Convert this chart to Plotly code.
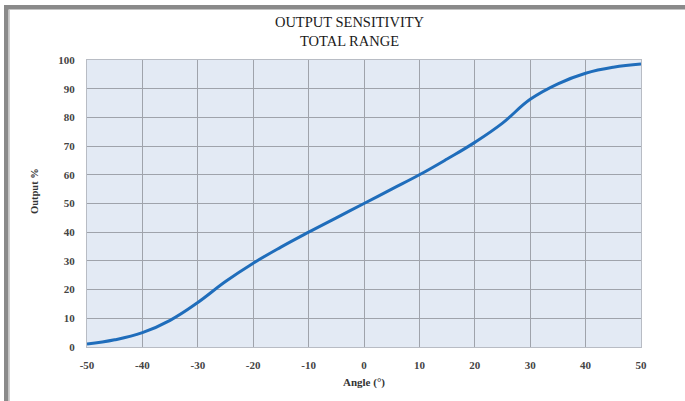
import plotly.graph_objects as go

angles = [-50, -45, -40, -35, -30, -25, -20, -15, -10, -5, 0, 5, 10, 15, 20, 25, 30, 35, 40, 45, 50]
output_pct = [1, 2.5, 5, 9.3, 15.5, 22.8, 29.2, 34.8, 40, 45, 50, 55, 60, 65.5, 71.3, 78.0, 86.3, 91.7, 95.4, 97.5, 98.6]

x_ticks = [-50, -40, -30, -20, -10, 0, 10, 20, 30, 40, 50]
y_ticks = [0, 10, 20, 30, 40, 50, 60, 70, 80, 90, 100]

serif = "Liberation Serif, Times New Roman, serif"

fig = go.Figure()
fig.add_trace(go.Scatter(
    x=angles, y=output_pct, mode="lines",
    line=dict(color="#1f6dbb", width=3, shape="spline", smoothing=1.2),
    showlegend=False, hoverinfo="skip",
))

W = 641 - 87
H = 347 - 60
def px_x(p):
    return (p - 87) / W
def px_y(p):
    return (347 - p) / H

fig.update_layout(
    width=685, height=401,
    margin=dict(l=87, r=44, t=60, b=54),
    paper_bgcolor="white",
    plot_bgcolor="#e3eaf4",
    title=dict(
        text="OUTPUT SENSITIVITY<br>TOTAL RANGE",
        x=349.5 / 685, xanchor="center", y=1 - 27 / 401, yanchor="middle", yref="container",
        font=dict(family=serif, size=14.5, color="#1a1a1a"),
    ),
    font=dict(family=serif, color="#333"),
    xaxis=dict(
        range=[-50, 50], tickvals=x_ticks, ticktext=[f"<b>{v}</b>" for v in x_ticks],
        showgrid=True, gridcolor="#9fa3ab", gridwidth=1,
        zeroline=False, showline=True, linecolor="#b8bcc4", linewidth=1, mirror=True,
        ticks="outside", ticklen=8, tickcolor="rgba(0,0,0,0)",
        tickfont=dict(family=serif, size=11, color="#444"),
        title=dict(text="<b>Angle (°)</b>", font=dict(family=serif, size=11, color="#333"), standoff=8),
    ),
    yaxis=dict(
        range=[0, 100], tickvals=y_ticks, ticktext=[f"<b>{v}</b>" for v in y_ticks],
        showgrid=True, gridcolor="#9fa3ab", gridwidth=1,
        zeroline=False, showline=True, linecolor="#b8bcc4", linewidth=1, mirror=True,
        ticks="outside", ticklen=9, tickcolor="rgba(0,0,0,0)",
        tickfont=dict(family=serif, size=11, color="#444"),
    ),
    annotations=[dict(
        text="<b>Output %</b>", textangle=-90, showarrow=False,
        xref="paper", yref="paper", x=px_x(34), y=px_y(191),
        xanchor="center", yanchor="middle",
        font=dict(family=serif, size=10.5, color="#333"),
    )],
)

# outer frame (gray border at left and top)
fig.add_shape(type="rect", xref="paper", yref="paper",
              x0=px_x(4), x1=px_x(8.5), y0=px_y(401), y1=px_y(5),
              line=dict(width=0), fillcolor="#8a8a8a", layer="above")
fig.add_shape(type="rect", xref="paper", yref="paper",
              x0=px_x(4), x1=px_x(685), y0=px_y(9.5), y1=px_y(5),
              line=dict(width=0), fillcolor="#8a8a8a", layer="above")
fig.add_shape(type="line", xref="paper", yref="paper",
              x0=px_x(9.5), x1=px_x(9.5), y0=px_y(401), y1=px_y(10),
              line=dict(width=1, color="#d0d0d0"), layer="above")

fig.write_html("out.html", config={"displayModeBar": False},
               post_script="document.body.style.margin='0';")
